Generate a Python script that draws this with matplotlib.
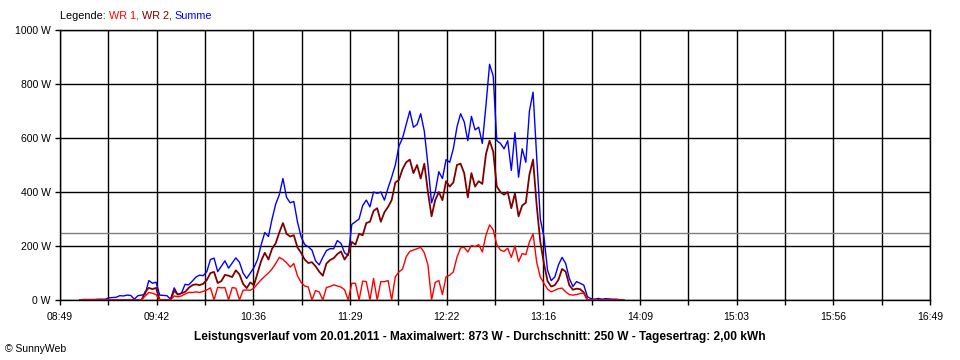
import numpy as np
import pandas as pd
import matplotlib
matplotlib.use("Agg")
import matplotlib.pyplot as plt

plt.rcParams['font.family'] = ['Liberation Sans', 'DejaVu Sans']

# Leistung in W, alle 2 Minuten ab 09:00
summe = [1, 2, 2, 2, 2, 3, 3, 3, 8, 9, 10, 16, 15, 18, 17, 3, 16, 18, 22, 72,
         62, 66, 18, 17, 16, 3, 45, 20, 25, 58, 56, 70, 85, 92, 90, 105, 150, 155, 105, 125,
         145, 118, 137, 156, 140, 100, 80, 100, 120, 150, 205, 250, 235, 300, 355, 390, 450, 380, 360, 365,
         290, 235, 205, 197, 185, 145, 130, 158, 183, 190, 190, 220, 210, 175, 165, 280, 290, 300, 350, 370,
         345, 400, 395, 400, 370, 415, 455, 500, 570, 600, 650, 700, 640, 650, 690, 625, 500, 360, 400, 475,
         450, 520, 510, 560, 640, 690, 660, 590, 680, 630, 640, 580, 720, 873, 830, 590, 580, 560, 590, 480,
         620, 455, 560, 510, 700, 770, 530, 300, 234, 110, 72, 85, 130, 158, 135, 80, 50, 68, 62, 55,
         12, 5, 3, 6, 3, 5, 4, 3, 3, 1, 0]
wr2 = [0, 0, 0, 0, 0, 0, 0, 0, 0, 0, 0, 0, 0, 0, 0, 0, 0, 0, 30, 45,
       40, 45, 0, 0, 0, 0, 35, 20, 25, 30, 45, 55, 58, 55, 60, 74, 100, 104, 63, 70,
       93, 90, 85, 110, 95, 60, 44, 65, 55, 100, 145, 175, 150, 190, 210, 250, 285, 245, 235, 240,
       195, 175, 150, 137, 140, 125, 105, 90, 135, 148, 155, 170, 180, 150, 170, 215, 205, 245, 240, 285,
       290, 330, 340, 290, 325, 345, 370, 435, 445, 485, 510, 520, 470, 500, 450, 505, 400, 310, 370, 400,
       370, 440, 420, 435, 500, 505, 470, 380, 470, 420, 440, 430, 540, 590, 550, 420, 400, 390, 400, 340,
       395, 310, 350, 360, 465, 520, 350, 215, 135, 70, 50, 55, 75, 115, 105, 55, 38, 42, 40, 28,
       0, 0, 0, 0, 0, 0, 0, 0, 0, 0, 0]
wr1 = [0, 0, 0, 0, 0, 0, 0, 0, 0, 0, 0, 0, 0, 0, 0, 0, 0, 0, 15, 28,
       25, 20, 0, 0, 0, 0, 15, 12, 15, 22, 28, 28, 30, 28, 32, 37, 45, 0, 47, 45,
       46, 0, 46, 44, 0, 36, 37, 36, 44, 60, 75, 88, 100, 115, 135, 158, 150, 138, 122, 135,
       90, 65, 52, 48, 0, 35, 30, 0, 46, 50, 56, 52, 48, 38, 0, 62, 62, 0, 70, 68,
       0, 80, 0, 68, 68, 72, 0, 86, 104, 115, 160, 180, 185, 190, 195, 175, 130, 0, 65, 72,
       20, 86, 92, 104, 158, 193, 195, 178, 202, 198, 205, 178, 240, 278, 260, 205, 185, 180, 192, 158,
       200, 142, 172, 168, 215, 245, 140, 85, 62, 40, 30, 36, 42, 44, 30, 20, 18, 20, 24, 25,
       0, 0, 0, 0, 0, 0, 0, 0, 0, 0, 0]

durchschnitt = 250
zeit_labels = ["08:49", "09:42", "10:36", "11:29", "12:22", "13:16", "14:09", "15:03", "15:56", "16:49"]
titel = ("Leistungsverlauf vom 20.01.2011 - Maximalwert: 873 W - Durchschnitt: 250 W"
         " - Tagesertrag: 2,00 kWh")

times = pd.date_range("2011-01-20 09:00", periods=len(summe), freq="2min")
minutes = np.array(times.hour * 60 + times.minute)

fig = plt.figure(figsize=(9.6, 3.6), dpi=100)
ax = fig.add_axes([60 / 960, 60 / 360, 870 / 960, 270 / 360])

t0, t1 = 8 * 60 + 49, 16 * 60 + 49
ticks = np.linspace(t0, t1, 19)
labels = [zeit_labels[i // 2] if i % 2 == 0 else "" for i in range(19)]
ax.set_xticks(ticks)
ax.set_xticklabels(labels)
ax.set_yticks(np.arange(0, 1001, 200))
ax.set_yticklabels([f"{v} W" for v in range(0, 1001, 200)])
ax.set_xlim(t0, t1)
ax.set_ylim(0, 1000)

ax.grid(True, color="black", lw=1)
ax.set_axisbelow(True)
for s in ax.spines.values():
    s.set_color("black")
    s.set_linewidth(1)
ax.tick_params(direction="out", length=3.6, width=1, color="black", labelsize=7.5)
ax.tick_params(axis="x", pad=5)
ax.tick_params(axis="y", pad=3)

ax.axhline(durchschnitt, color="#808080", lw=1, zorder=2)
ax.plot(minutes, summe, color="#0000ff", lw=1, zorder=3)
ax.plot(minutes, wr2, color="#800000", lw=1.3, zorder=4)
ax.plot(minutes, wr1, color="#ff0000", lw=1, zorder=5)

# Legende oben links, Teile nebeneinander
prev = fig.text(60 / 960, 1 - 16 / 360, "Legende: ", fontsize=7.8, va="center", color="black")
for txt, col in [("WR 1, ", "#ff0000"), ("WR 2, ", "#800000"), ("Summe", "#0000ff")]:
    prev = ax.annotate(txt, xy=(1, 0), xycoords=prev, va="bottom", ha="left",
                       fontsize=7.8, color=col)

fig.text(0.5, 1 - 337 / 360, titel, ha="center", va="center", fontsize=8.6, weight="bold")
fig.text(5 / 960, 1 - 349 / 360, "\u00a9 SunnyWeb", ha="left", va="center", fontsize=7.5)

fig.savefig("out.png", dpi=100)
